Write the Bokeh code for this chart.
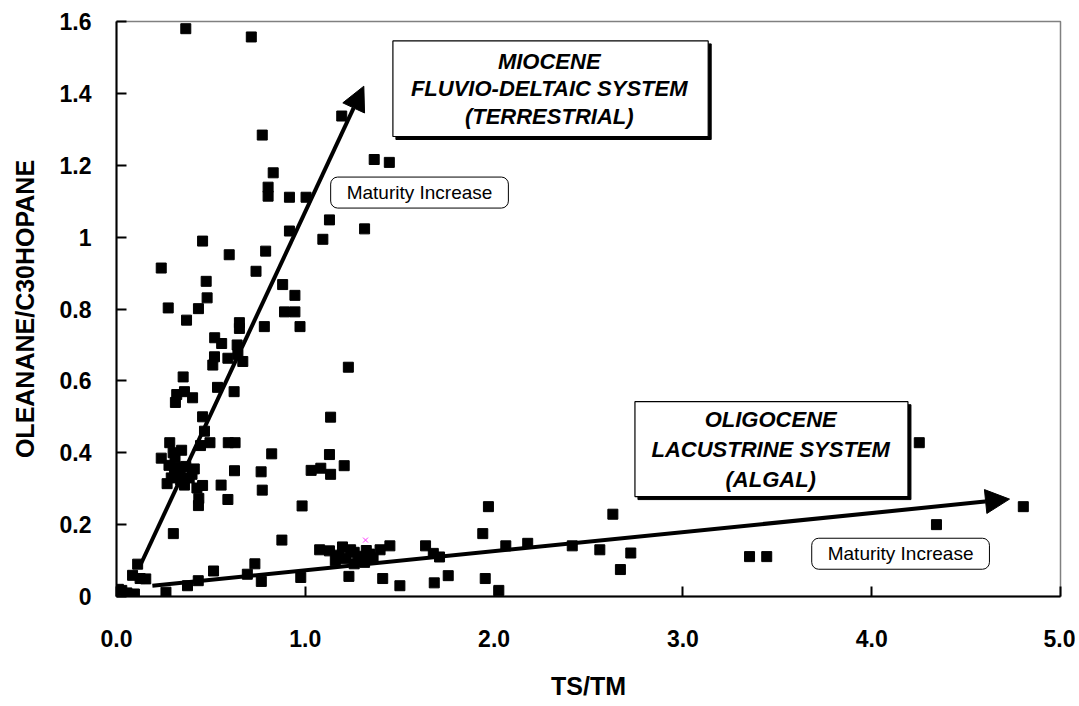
from bokeh.plotting import figure
from bokeh.models import Range1d, FixedTicker, Arrow, NormalHead, Label
from bokeh.core.properties import value
from bokeh.embed import file_html
from bokeh.resources import INLINE

# ---------------- data ----------------
ts_tm = [
    0.367, 0.714, 1.193, 0.772, 1.365, 1.445, 0.830, 0.803, 0.803, 0.916,
    1.004, 1.128, 1.314, 0.916, 1.093, 0.456, 0.597, 0.790, 0.237, 0.739,
    0.475, 0.880, 0.945, 0.480, 0.274, 0.434, 0.890, 0.945, 0.371, 0.651,
    0.651, 0.783, 0.972, 0.520, 0.557, 0.639, 0.519, 0.510, 0.590, 0.669,
    0.643, 1.228, 0.353, 0.319, 0.360, 0.403, 0.312, 0.535, 0.623, 0.456,
    1.134, 0.466, 0.282, 0.495, 0.592, 0.628, 0.445, 0.822, 1.128, 0.237,
    0.310, 0.345, 0.278, 0.367, 0.412, 0.320, 0.268, 0.340, 0.385, 0.456,
    0.426, 0.307, 0.625, 0.766, 0.554, 0.772, 0.436, 0.434, 0.590, 0.983,
    1.031, 1.082, 1.134, 1.206, 0.301, 0.876, 1.970, 1.940, 4.252,
    0.290, 0.330, 0.360, 0.400, 0.300,
    0.112, 0.085, 0.125, 0.155, 0.028, 0.055, 0.095, 0.010, 0.262, 0.376,
    0.433, 0.514, 0.693, 0.733, 0.767, 0.976, 1.076, 1.128, 1.197, 1.259,
    1.323, 1.396, 1.448, 1.159, 1.213, 1.259, 1.314, 1.359, 1.231, 1.410,
    1.501, 1.637, 1.678, 1.711, 1.683, 1.757, 1.953, 2.025, 2.062, 2.178,
    2.414, 2.560, 2.629, 2.669, 2.724, 3.353, 3.444, 4.343, 4.803,
    1.280, 1.340, 1.180, 1.300, 1.240,
]
oleanane_c30hopane = [
    1.580, 1.557, 1.337, 1.284, 1.216, 1.208, 1.179, 1.139, 1.114, 1.111,
    1.111, 1.048, 1.023, 1.017, 0.994, 0.989, 0.951, 0.961, 0.914, 0.905,
    0.877, 0.868, 0.838, 0.831, 0.803, 0.801, 0.792, 0.792, 0.769, 0.762,
    0.746, 0.751, 0.751, 0.720, 0.704, 0.700, 0.667, 0.644, 0.663, 0.654,
    0.674, 0.638, 0.611, 0.562, 0.570, 0.553, 0.540, 0.582, 0.570, 0.500,
    0.499, 0.460, 0.428, 0.428, 0.428, 0.428, 0.420, 0.397, 0.395, 0.385,
    0.386, 0.407, 0.365, 0.362, 0.355, 0.342, 0.314, 0.324, 0.330, 0.309,
    0.302, 0.349, 0.350, 0.347, 0.310, 0.296, 0.273, 0.253, 0.270, 0.252,
    0.351, 0.357, 0.340, 0.364, 0.175, 0.157, 0.250, 0.175, 0.428,
    0.330, 0.360, 0.310, 0.340, 0.400,
    0.090, 0.059, 0.050, 0.049, 0.017, 0.010, 0.007, 0.020, 0.012, 0.030,
    0.044, 0.071, 0.062, 0.091, 0.042, 0.053, 0.130, 0.127, 0.138, 0.123,
    0.128, 0.130, 0.141, 0.100, 0.105, 0.091, 0.095, 0.107, 0.056, 0.050,
    0.030, 0.141, 0.120, 0.110, 0.038, 0.058, 0.050, 0.017, 0.141, 0.148,
    0.141, 0.130, 0.229, 0.075, 0.121, 0.111, 0.111, 0.200, 0.250,
    0.112, 0.118, 0.115, 0.105, 0.130,
]
marker_x = [1.319]
marker_y = [0.157]

x_ticks = [0, 1, 2, 3, 4, 5]
x_tick_labels = ["0.0", "1.0", "2.0", "3.0", "4.0", "5.0"]
y_ticks = [0, 0.2, 0.4, 0.6, 0.8, 1, 1.2, 1.4, 1.6]
y_tick_labels = ["0", "0.2", "0.4", "0.6", "0.8", "1", "1.2", "1.4", "1.6"]

box1_lines = ["MIOCENE", "FLUVIO-DELTAIC SYSTEM", "(TERRESTRIAL)"]
box2_lines = ["OLIGOCENE", "LACUSTRINE SYSTEM", "(ALGAL)"]
maturity_text = "Maturity Increase"

FONT = "Liberation Sans"

# ---------------- figure ----------------
p = figure(width=1075, height=702, x_range=Range1d(0, 5), y_range=Range1d(0, 1.6),
           output_backend="svg", toolbar_location=None,
           min_border_left=116, min_border_right=15, min_border_top=21, min_border_bottom=104)
p.background_fill_color = "white"
p.border_fill_color = "white"
p.outline_line_color = "#808080"
p.outline_line_width = 1.5
p.xgrid.visible = False
p.ygrid.visible = False

for ax in (p.xaxis[0], p.yaxis[0]):
    ax.axis_line_color = "black"
    ax.axis_line_width = 2
    ax.major_tick_line_color = "black"
    ax.major_tick_line_width = 2
    ax.major_tick_in = 10
    ax.major_tick_out = 0
    ax.minor_tick_line_color = None
    ax.major_label_text_font = FONT
    ax.major_label_text_font_style = "bold"
    ax.major_label_text_font_size = "23px"
    ax.major_label_text_color = "black"
    ax.axis_label_text_font = FONT
    ax.axis_label_text_font_style = "bold"
    ax.axis_label_text_font_size = "25px"
    ax.axis_label_text_color = "black"

p.xaxis.ticker = FixedTicker(ticks=x_ticks)
p.xaxis.major_label_overrides = dict(zip(x_ticks, x_tick_labels))
p.yaxis.ticker = FixedTicker(ticks=y_ticks)
p.yaxis.major_label_overrides = dict(zip(y_ticks, y_tick_labels))
p.xaxis.axis_label = "TS/TM"
p.yaxis.axis_label = "OLEANANE/C30HOPANE"
p.xaxis.major_label_standoff = 33
p.xaxis.axis_label_standoff = 22
p.yaxis.major_label_standoff = 25
p.yaxis.axis_label_standoff = 18

# ---------------- arrows ----------------
for (xs, ys, xe, ye) in [(0.12, 0.08, 1.31, 1.42), (0.19, 0.03, 4.73, 0.271)]:
    p.add_layout(Arrow(end=NormalHead(size=24, fill_color="black", line_color="black", line_width=1),
                       x_start=xs, y_start=ys, x_end=xe, y_end=ye,
                       line_width=4, line_color="black"))

# ---------------- points ----------------
p.scatter(ts_tm, oleanane_c30hopane, marker="square", size=10,
          fill_color="black", line_color="black")
p.scatter(marker_x, marker_y, marker="x", size=7, line_color="#ff33ff", line_width=1)

# ---------------- text boxes ----------------
dx, dy = 3 / 188.8, 3 / 360.6
def text_box(l, r, t, b, lines, line_ys, cx):
    p.quad(left=[l + dx], right=[r + dx], top=[t - dy], bottom=[b - dy],
           fill_color="black", line_color="black")
    p.quad(left=[l], right=[r], top=[t], bottom=[b],
           fill_color="white", line_color="black", line_width=1.2)
    p.text(x=[cx] * len(lines), y=line_ys, text=lines,
           text_font=value(FONT), text_font_style="bold italic",
           text_font_size="22px", text_align="center", text_baseline="middle",
           text_color="black")

text_box(1.464, 3.134, 1.546, 1.280, box1_lines, [1.490, 1.413, 1.337], 2.292)
text_box(2.746, 4.192, 0.542, 0.278, box2_lines, [0.493, 0.410, 0.326], 3.465)

for (mx, my) in [(1.605, 1.124), (4.153, 0.119)]:
    p.add_layout(Label(x=mx, y=my, text=maturity_text, text_font=FONT,
                       text_font_size="19px", text_align="center", text_baseline="middle",
                       text_color="black", border_line_color="black", border_line_width=1,
                       background_fill_color="white", border_radius=7, padding=(16, 5)))

open("out.html", "w").write(file_html(p, INLINE))
